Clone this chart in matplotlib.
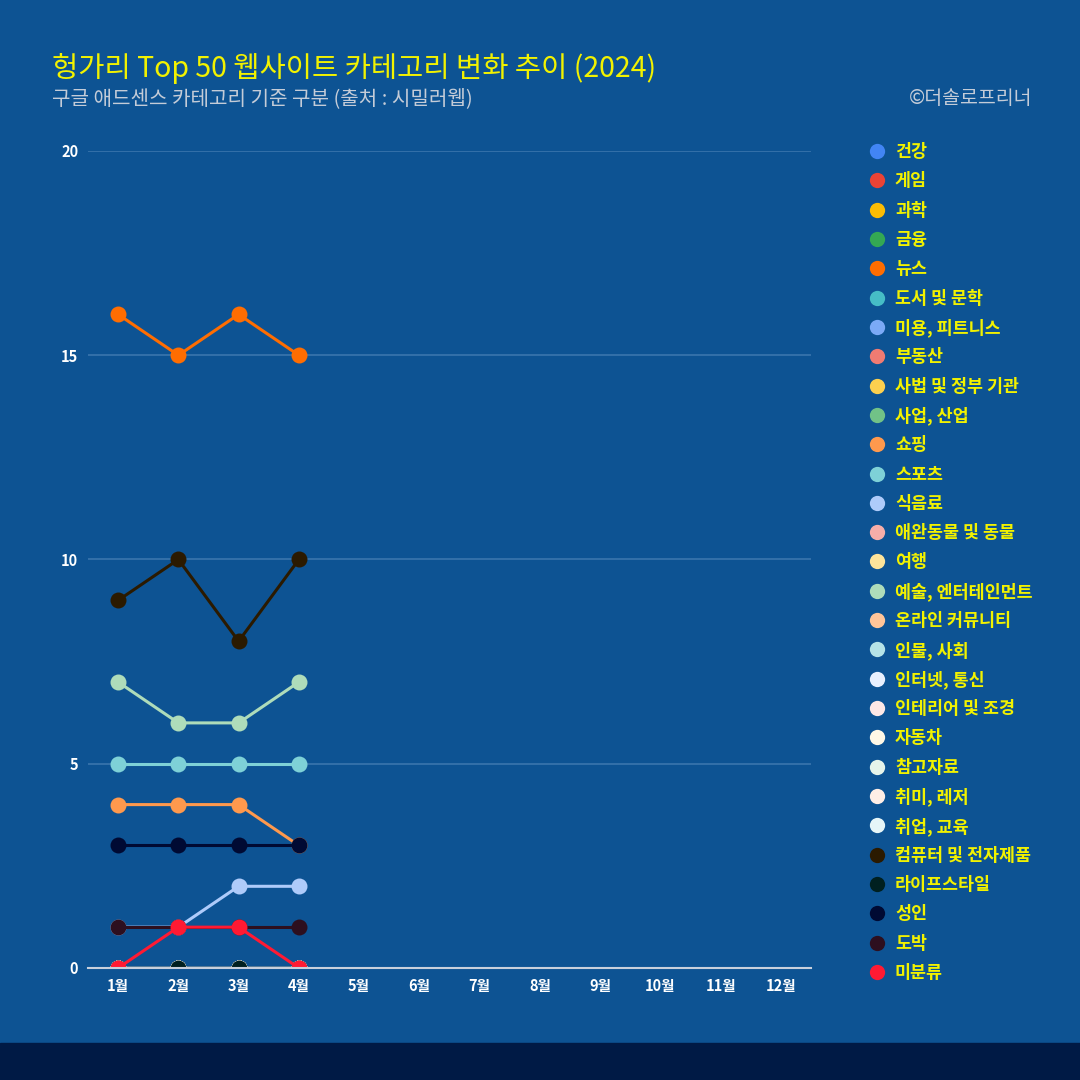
import matplotlib

matplotlib.use("Agg")
import matplotlib.pyplot as plt
import numpy as np

plt.rcParams["font.family"] = ["Noto Sans CJK KR", "DejaVu Sans"]

BG = "#0d5393"
BAND = "#001a45"

months = ["1월", "2월", "3월", "4월", "5월", "6월", "7월", "8월", "9월", "10월", "11월", "12월"]

categories = [
    "건강", "게임", "과학", "금융", "뉴스", "도서 및 문학", "미용, 피트니스", "부동산",
    "사법 및 정부 기관", "사업, 산업", "쇼핑", "스포츠", "식음료", "애완동물 및 동물", "여행",
    "예술, 엔터테인먼트", "온라인 커뮤니티", "인물, 사회", "인터넷, 통신", "인테리어 및 조경",
    "자동차", "참고자료", "취미, 레저", "취업, 교육", "컴퓨터 및 전자제품", "라이프스타일",
    "성인", "도박", "미분류",
]
colors = [
    "#4285f4", "#ea4335", "#fbbc04", "#34a853", "#ff6d01", "#46bdc6", "#7baaf7", "#f07b72",
    "#fcd04f", "#71c287", "#ff994d", "#7ed1d7", "#aecbfa", "#f7aea9", "#fde49b",
    "#aedcba", "#ffc599", "#b5e3e7", "#e8f0fe", "#fde8e6",
    "#fff8e6", "#e6f4ea", "#ffeee6", "#e6f6f8", "#2b1a00", "#002020",
    "#000a33", "#2d0f1f", "#ff1a33",
]

# counts for Jan-Apr (rest of the year not yet available)
values = {
    "뉴스": [16, 15, 16, 15],
    "쇼핑": [4, 4, 4, 3],
    "스포츠": [5, 5, 5, 5],
    "식음료": [1, 1, 2, 2],
    "예술, 엔터테인먼트": [7, 6, 6, 7],
    "컴퓨터 및 전자제품": [9, 10, 8, 10],
    "라이프스타일": [0, 0, 0, 0],
    "성인": [3, 3, 3, 3],
    "도박": [1, 1, 1, 1],
    "미분류": [0, 1, 1, 0],
}

fig = plt.figure(figsize=(10.8, 10.8), dpi=100, facecolor=BG)
fig.patches.append(plt.Rectangle((0, 0), 1, 37 / 1080, transform=fig.transFigure,
                                 color=BAND, zorder=0))

ax = fig.add_axes([88 / 1080, 112 / 1080, 723 / 1080, 817 / 1080])
ax.set_facecolor(BG)
x = np.arange(1, 13)
for i, (cat, col) in enumerate(zip(categories, colors)):
    vals = values.get(cat, [0, 0, 0, 0])
    ax.plot(x[:len(vals)], vals, color=col, lw=2.2, marker="o", ms=11.5,
            mec=col, mew=0, zorder=3 + i * 0.01)

ax.set_xlim(0.5, 12.5)
ax.set_ylim(0, 20)
ax.set_yticks([0, 5, 10, 15, 20])
ax.set_xticks(x)
ax.set_xticklabels(months)
for s in ["top", "right", "left"]:
    ax.spines[s].set_visible(False)
ax.spines["bottom"].set_color("#c8d0dc")
ax.spines["bottom"].set_linewidth(1.5)
ax.spines["bottom"].set_zorder(5)
ax.grid(axis="y", color="#3a75ad", lw=1.2)
ax.set_axisbelow(True)
ax.tick_params(axis="both", length=0, colors="white", labelsize=10.5)
ax.tick_params(axis="x", pad=7)
ax.tick_params(axis="y", pad=7)
for lab in ax.get_xticklabels() + ax.get_yticklabels():
    lab.set_fontweight("bold")

fig.text(52 / 1080, 1 - 68 / 1080, "헝가리 Top 50 웹사이트 카테고리 변화 추이 (2024)",
         color="#f2f200", fontsize=20.5, va="center", ha="left")
fig.text(52 / 1080, 1 - 99 / 1080, "구글 애드센스 카테고리 기준 구분 (출처 : 시밀러웹)",
         color="#c4ccd8", fontsize=14.5, va="center", ha="left")
fig.text(1032 / 1080, 1 - 99 / 1080, "©더솔로프리너",
         color="#c4ccd8", fontsize=14, va="center", ha="right")

# legend column
for i, (cat, col) in enumerate(zip(categories, colors)):
    yy = 1 - (151 + i * 29.32) / 1080
    fig.lines.append(plt.Line2D([877 / 1080], [yy], marker="o", ms=11, mew=0,
                                color=col, transform=fig.transFigure))
    fig.text(895 / 1080, yy - 1 / 1080, cat, color="#f2f200", fontsize=12.5,
             fontweight="bold", va="center", ha="left")

fig.savefig("out.png", dpi=100, facecolor=BG)
